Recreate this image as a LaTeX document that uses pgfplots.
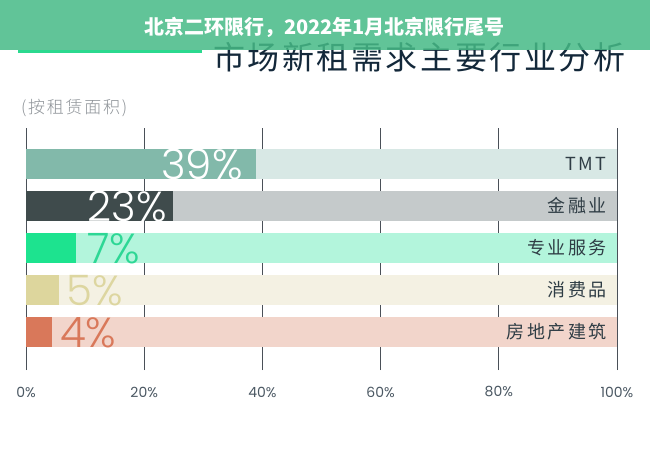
\documentclass[border=0pt]{standalone}
\usepackage{pgfplots}
\pgfplotsset{compat=1.18}
\usepackage{fontspec}
\setmainfont{Noto Sans CJK SC}
\newfontfamily\catfont{Noto Sans CJK SC}[LetterSpace=14]
\newfontfamily\titlefont{Noto Sans CJK SC}[LetterSpace=8]
\IfFontExistsTF{Noto Sans CJK SC Light}{\newfontfamily\subfont{Noto Sans CJK SC Light}[LetterSpace=10]}{\newfontfamily\subfont{Noto Sans CJK SC}[LetterSpace=10]}
\newfontfamily\poppins{Poppins}
\IfFontExistsTF{Poppins Light}{\newfontfamily\thin{Poppins Light}}{\newfontfamily\thin{Poppins}}
\definecolor{hdr}{HTML}{46BA86}
\definecolor{gline}{HTML}{2BD98F}
\definecolor{titlec}{HTML}{13283A}
\definecolor{subc}{HTML}{8E9398}
\definecolor{tickc}{HTML}{4B5863}
\definecolor{gridc}{HTML}{4A5058}
\definecolor{catc}{HTML}{2F3D45}
\definecolor{fA}{HTML}{82B9AA}\definecolor{bA}{HTML}{D8E8E5}
\definecolor{fB}{HTML}{3F4B4C}\definecolor{bB}{HTML}{C5CACB}
\definecolor{fC}{HTML}{1DE38F}\definecolor{bC}{HTML}{B3F5DC}
\definecolor{fD}{HTML}{DDD69D}\definecolor{bD}{HTML}{F4F1E3}
\definecolor{fE}{HTML}{D9785A}\definecolor{bE}{HTML}{F2D5CB}
\definecolor{lC}{HTML}{2DD795}\definecolor{lD}{HTML}{DDD6A0}
\begin{document}
\begin{tikzpicture}[x=1pt,y=1pt]
\path[fill=white] (0,0) rectangle (650,450);
% title and green line (under header)
\fill[gline] (18,397) rectangle (202,400);
\node[anchor=west, inner sep=0, text=titlec, font=\titlefont\fontsize{32}{32}\selectfont] at (213,393) {市场新租需求主要行业分析};
\fill[hdr, fill opacity=0.85] (0,400) rectangle (650,450);
\node[text=white, font=\bfseries\fontsize{20}{20}\selectfont, inner sep=0] at (324.5,423) {北京二环限行，2022年1月北京限行尾号};
\node[anchor=west, inner sep=0, text=subc, font=\subfont\fontsize{17}{17}\selectfont] at (21,342) {(按租赁面积)};
\begin{axis}[
  at={(26pt,80pt)}, anchor=south west,
  scale only axis, width=591pt, height=242pt,
  xmin=0, xmax=100, ymin=0, ymax=242,
  xbar, bar shift=0pt, bar width=30.5pt,
  xtick={0,20,40,60,80,100},
  xticklabel={\pgfmathprintnumber{\tick}\%},
  /pgf/number format/assume math mode=true,
  xticklabel style={font=\poppins\fontsize{14}{14}\selectfont, text=tickc, anchor=center, yshift=-22pt},
  ytick=\empty,
  xmajorgrids, grid style={color=gridc, line width=0.8pt},
  axis line style={draw=none},
  major tick length=0pt,
  clip=false,
]
% background bars (100%)
\addplot[fill=bA, draw=none] coordinates {(100,206)};
\addplot[fill=bB, draw=none] coordinates {(100,164)};
\addplot[fill=bC, draw=none] coordinates {(100,122)};
\addplot[fill=bD, draw=none] coordinates {(100,80)};
\addplot[fill=bE, draw=none] coordinates {(100,38)};
% value bars
\addplot[fill=fA, draw=none] coordinates {(39,206)};
\addplot[fill=fB, draw=none] coordinates {(24.9,164)};
\addplot[fill=fC, draw=none] coordinates {(8.4,122)};
\addplot[fill=fD, draw=none] coordinates {(5.5,80)};
\addplot[fill=fE, draw=none] coordinates {(4.45,38)};
% value labels
\node[anchor=base east, inner sep=0, text=white, font=\thin\fontsize{42}{42}\selectfont] at (axis cs:36.7,190.75) {39\%};
\node[anchor=base east, inner sep=0, text=white, font=\thin\fontsize{42}{42}\selectfont] at (axis cs:23.9,148.75) {23\%};
\node[anchor=base west, inner sep=0, text=lC, font=\thin\fontsize{42}{42}\selectfont] at (axis cs:10.3,106.75) {7\%};
\node[anchor=base west, inner sep=0, text=lD, font=\thin\fontsize{42}{42}\selectfont] at (axis cs:6.9,64.75) {5\%};
\node[anchor=base west, inner sep=0, text=fE, font=\thin\fontsize{42}{42}\selectfont] at (axis cs:5.75,22.75) {4\%};
% category labels
\node[anchor=east, inner sep=0, text=catc, font=\catfont\fontsize{18}{18}\selectfont] at (axis cs:98.3,206) {TMT};
\node[anchor=east, inner sep=0, text=catc, font=\catfont\fontsize{18}{18}\selectfont] at (axis cs:98.3,164) {金融业};
\node[anchor=east, inner sep=0, text=catc, font=\catfont\fontsize{18}{18}\selectfont] at (axis cs:98.3,122) {专业服务};
\node[anchor=east, inner sep=0, text=catc, font=\catfont\fontsize{18}{18}\selectfont] at (axis cs:98.3,80) {消费品};
\node[anchor=east, inner sep=0, text=catc, font=\catfont\fontsize{18}{18}\selectfont] at (axis cs:98.3,38) {房地产建筑};
\end{axis}
\end{tikzpicture}
\end{document}
